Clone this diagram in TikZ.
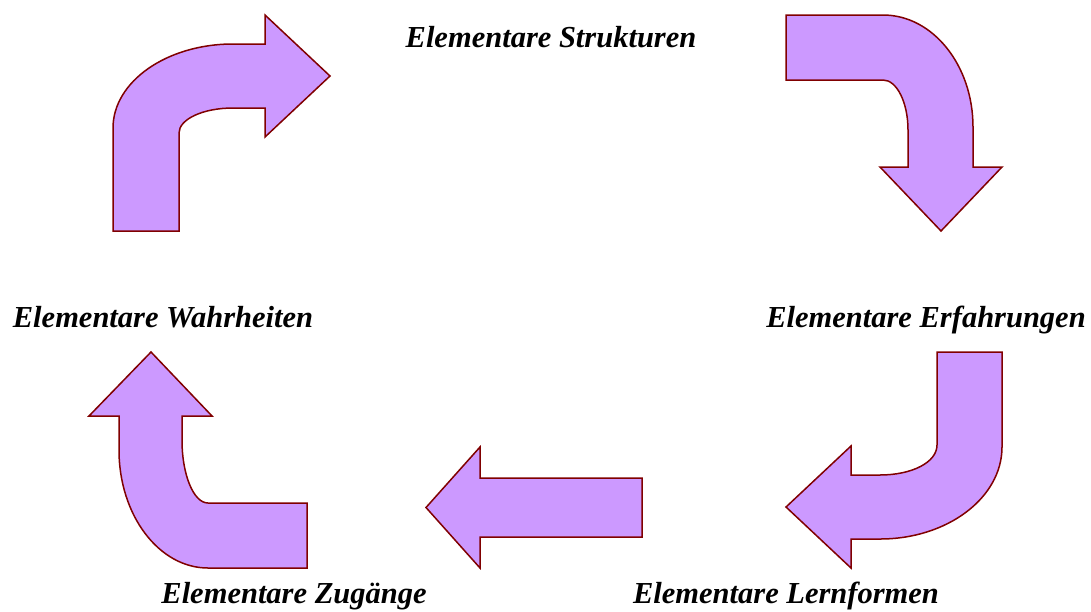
\documentclass[tikz,border=0pt]{standalone}
\usepackage{fontspec}
\setmainfont{Liberation Serif}
\begin{document}
\begin{tikzpicture}[x=1pt,y=-1pt,
  bentarrow/.style={fill=arrowfill,draw=arrowline,line width=1.5pt,line join=miter},
  label/.style={font=\fontsize{30.5}{36}\selectfont\bfseries\itshape,anchor=base,inner sep=0pt}]
\definecolor{arrowfill}{HTML}{CC99FF}
\definecolor{arrowline}{HTML}{800000}
\useasboundingbox (0,0) rectangle (1091,611);

% labels around the cycle
\node[label] (strukturen)  at (551,47)  {Elementare Strukturen};
\node[label] (erfahrungen) at (926,327) {Elementare Erfahrungen};
\node[label] (lernformen)  at (786,603) {Elementare Lernformen};
\node[label] (zugaenge)    at (294,603) {Elementare Zugänge};
\node[label] (wahrheiten)  at (163,327) {Elementare Wahrheiten};

% upper left: up, then right
\draw[bentarrow] (113,231) -- (113,128)
  .. controls (113,81.6) and (166.8,44) .. (233,44)
  -- (265,44) -- (265,15) -- (330,76) -- (265,137) -- (265,108) -- (233,108)
  .. controls (203,108) and (179,119.2) .. (179,133)
  -- (179,231) -- cycle;

% upper right: right, then down
\draw[bentarrow] (786,15) -- (883,15)
  .. controls (932.7,15) and (973,65.2) .. (973,127)
  -- (973,167) -- (1002,167) -- (941,231) -- (880,167) -- (908,167) -- (908,130)
  .. controls (908,102.4) and (896.8,80) .. (883,80)
  -- (786,80) -- cycle;

% lower right: down, then left
\draw[bentarrow] (937,352) -- (1002,352) -- (1002,447)
  .. controls (1002,497.8) and (947.3,539) .. (880,539)
  -- (851,539) -- (851,568) -- (786,507) -- (851,446) -- (851,475) -- (880,475)
  .. controls (911.5,475) and (937,462.5) .. (937,445)
  -- cycle;

% bottom middle: straight to the left
\draw[bentarrow] (642,478) -- (642,537) -- (480,537) -- (480,568)
  -- (426,507.5) -- (480,447) -- (480,478) -- cycle;

% lower left: left, then up
\draw[bentarrow] (307,503) -- (307,568) -- (208,568)
  .. controls (158.9,568) and (119,515.1) .. (119,450)
  -- (119,416) -- (89,416) -- (151,352) -- (212,416) -- (182,416) -- (182,440)
  .. controls (182,474.8) and (193.6,503) .. (208,503)
  -- cycle;
\end{tikzpicture}
\end{document}
